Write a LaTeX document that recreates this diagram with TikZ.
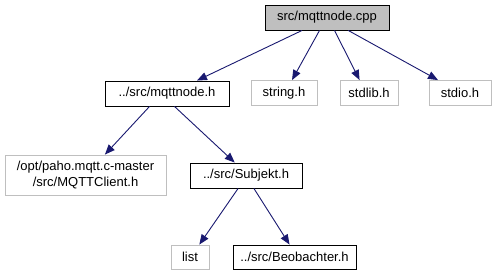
\documentclass[tikz,border=0pt]{standalone}
\usepackage{fontspec}
\setmainfont{Liberation Sans}
\usetikzlibrary{arrows.meta,calc}
\definecolor{edgeblue}{HTML}{191970}
\definecolor{extgrey}{HTML}{BFBFBF}
\begin{document}
\begin{tikzpicture}[x=1pt,y=-1pt,
  box/.style={draw, line width=0.9pt, inner sep=0pt, minimum height=25pt,
              font=\fontsize{13}{15.5}\selectfont, align=center, fill=white},
  rootbox/.style={box, fill=extgrey},
  extbox/.style={box, draw=extgrey},
  dep/.style={draw=edgeblue, line width=0.9pt,
              -{Triangle[length=10pt,width=8pt,fill=edgeblue]}}]
\useasboundingbox[fill=white] (0,0) rectangle (495,276);

% nodes
\node[rootbox, minimum width=124pt] (root) at (327,17.5) {src/mqttnode.cpp};
\node[box, minimum width=124pt] (mqh) at (167,93.5) {../src/mqttnode.h};
\node[extbox, minimum width=66pt] (str) at (284,93) {string.h};
\node[extbox, minimum width=58pt] (stdlib) at (369,93) {stdlib.h};
\node[extbox, minimum width=62pt] (stdio) at (460,93) {stdio.h};
\node[extbox, minimum width=161pt, minimum height=40pt] (paho) at (85.5,175) {/opt/paho.mqtt.c-master\\/src/MQTTClient.h};
\node[box, minimum width=112pt] (subj) at (246,175.5) {../src/Subjekt.h};
\node[extbox, minimum width=38pt, minimum height=24pt] (list) at (190,257) {list};
\node[box, minimum width=123pt, minimum height=24pt] (beob) at (294.5,257) {../src/Beobachter.h};

% include edges
\draw[dep] ($(root.south west)!0.30!(root.south east)$) -- ($(mqh.north west)!0.74!(mqh.north east)$);
\draw[dep] ($(root.south west)!0.44!(root.south east)$) -- ($(str.north west)!0.62!(str.north east)$);
\draw[dep] ($(root.south west)!0.56!(root.south east)$) -- ($(stdlib.north west)!0.34!(stdlib.north east)$);
\draw[dep] ($(root.south west)!0.67!(root.south east)$) -- ($(stdio.north west)!0.15!(stdio.north east)$);
\draw[dep] ($(mqh.south west)!0.36!(mqh.south east)$) -- ($(paho.north west)!0.62!(paho.north east)$);
\draw[dep] ($(mqh.south west)!0.56!(mqh.south east)$) -- ($(subj.north west)!0.40!(subj.north east)$);
\draw[dep] ($(subj.south west)!0.43!(subj.south east)$) -- ($(list.north west)!0.74!(list.north east)$);
\draw[dep] ($(subj.south west)!0.57!(subj.south east)$) -- ($(beob.north west)!0.46!(beob.north east)$);
\end{tikzpicture}
\end{document}
